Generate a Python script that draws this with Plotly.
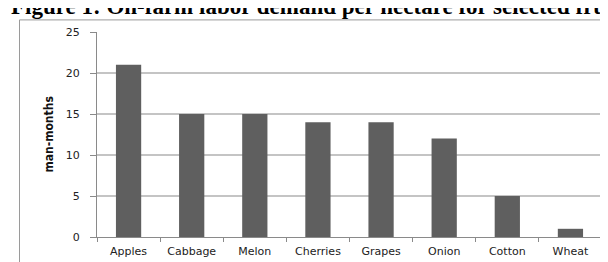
import plotly.graph_objects as go

categories = ["Apples", "Cabbage", "Melon", "Cherries", "Grapes", "Onion", "Cotton", "Wheat"]
values = [21, 15, 15, 14, 14, 12, 5, 1]
y_ticks = [0, 5, 10, 15, 20, 25]

W, H = 608, 262
L, R, T, B = 89, 14, 24, 26
pw = W - L - R
ph = H - T - B

def px_x(px):
    return (px - L) / pw

def px_y(py):
    return (H - B - py) / ph

fig = go.Figure(go.Bar(x=categories, y=values, marker=dict(color="#5f5f5f", line=dict(width=0))))

fig.update_layout(
    width=W, height=H,
    margin=dict(l=L, r=R, t=T, b=B),
    paper_bgcolor="white", plot_bgcolor="white",
    bargap=0.6, showlegend=False,
    font=dict(family="DejaVu Sans", size=11, color="#222"),
)
fig.update_xaxes(
    showline=True, linecolor="#8a8a8a", linewidth=1,
    ticks="outside", ticklen=4, tickcolor="#8a8a8a", tickson="boundaries",
    showgrid=False, ticklabelstandoff=4,
    tickfont=dict(family="DejaVu Sans", size=11, color="#222"),
)
fig.update_yaxes(
    range=[0, 25], tickvals=y_ticks,
    showline=True, linecolor="#8a8a8a", linewidth=1,
    ticks="outside", ticklen=6, tickcolor="#8a8a8a",
    showgrid=True, gridcolor="#c4c4c4", gridwidth=1.5,
    zeroline=False, ticklabelstandoff=8,
    tickfont=dict(family="DejaVu Sans", size=11, color="#222"),
)

# outer frame
fig.add_shape(type="rect", xref="paper", yref="paper",
              x0=px_x(11.5), x1=px_x(700), y0=px_y(400), y1=px_y(11.5),
              line=dict(color="#9a9a9a", width=1), layer="below")

# y-axis title
fig.add_annotation(text="<b>man-months</b>", xref="paper", yref="paper",
                   x=px_x(40), y=px_y(130), showarrow=False, textangle=-90,
                   xanchor="center", yanchor="middle",
                   font=dict(family="Liberation Sans Narrow, DejaVu Sans Condensed", size=12, color="#111"))

# figure caption (cropped at top, as in the source image)
fig.add_annotation(text="<b>Figure 1: On-farm labor demand per hectare for selected fruits</b>",
                   xref="paper", yref="paper", x=px_x(1), y=px_y(13),
                   xanchor="left", yanchor="bottom", showarrow=False,
                   font=dict(family="Liberation Serif", size=23, color="#000"))

fig.write_html("out.html")
